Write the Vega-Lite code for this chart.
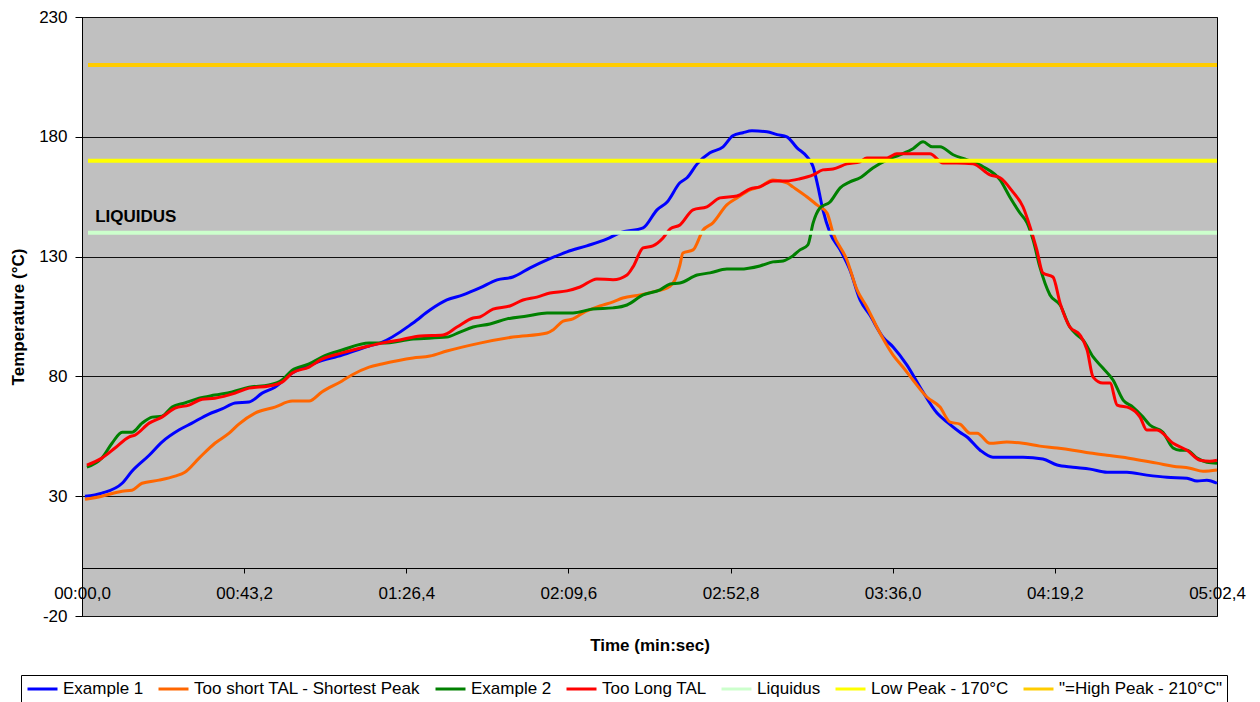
{
"$schema": "https://vega.github.io/schema/vega-lite/v6.json",
"width": 1135, "height": 599,
"autosize": {"type": "none"},
"padding": {"left": 82, "top": 17, "right": 43, "bottom": 86},
"background": "white",
"config": {
  "font": "Liberation Sans",
  "view": {"fill": "#C0C0C0", "stroke": "#000000", "strokeWidth": 1},
  "axis": {"labelFont": "Liberation Sans", "titleFont": "Liberation Sans", "labelColor": "black", "titleColor": "black", "domainColor": "black", "tickColor": "black", "gridColor": "#111111"},
  "legend": {"labelFont": "Liberation Sans", "labelColor": "black"}
},
"datasets": {
"curves": [
{"series":"Example 1","t":0.8,"temp":30.0},{"series":"Example 1","t":5.3,"temp":31.3},{"series":"Example 1","t":10.7,"temp":35.4},{"series":"Example 1","t":13.3,"temp":40.4},{"series":"Example 1","t":17.9,"temp":47.1},{"series":"Example 1","t":21.3,"temp":52.6},{"series":"Example 1","t":25.8,"temp":57.6},{"series":"Example 1","t":29.3,"temp":60.5},{"series":"Example 1","t":33.8,"temp":64.3},{"series":"Example 1","t":37.3,"temp":66.4},{"series":"Example 1","t":40.8,"temp":68.9},{"series":"Example 1","t":44.5,"temp":69.3},{"series":"Example 1","t":48.0,"temp":73.0},{"series":"Example 1","t":51.4,"temp":75.5},{"series":"Example 1","t":56.0,"temp":81.4},{"series":"Example 1","t":62.1,"temp":85.6},{"series":"Example 1","t":69.3,"temp":88.9},{"series":"Example 1","t":76.5,"temp":92.7},{"series":"Example 1","t":79.4,"temp":93.9},{"series":"Example 1","t":88.2,"temp":102.3},{"series":"Example 1","t":92.7,"temp":107.7},{"series":"Example 1","t":97.2,"temp":111.9},{"series":"Example 1","t":101.5,"temp":114.0},{"series":"Example 1","t":106.0,"temp":116.9},{"series":"Example 1","t":110.6,"temp":120.3},{"series":"Example 1","t":114.8,"temp":121.5},{"series":"Example 1","t":119.4,"temp":125.3},{"series":"Example 1","t":123.9,"temp":128.6},{"series":"Example 1","t":129.2,"temp":132.0},{"series":"Example 1","t":134.5,"temp":134.5},{"series":"Example 1","t":139.9,"temp":137.4},{"series":"Example 1","t":143.3,"temp":139.9},{"series":"Example 1","t":149.5,"temp":142.0},{"series":"Example 1","t":153.2,"temp":149.5},{"series":"Example 1","t":155.9,"temp":152.8},{"series":"Example 1","t":159.3,"temp":160.8},{"series":"Example 1","t":161.2,"temp":162.9},{"series":"Example 1","t":163.9,"temp":168.7},{"series":"Example 1","t":167.3,"temp":173.3},{"series":"Example 1","t":170.8,"temp":175.8},{"series":"Example 1","t":173.4,"temp":180.4},{"series":"Example 1","t":176.1,"temp":181.7},{"series":"Example 1","t":178.5,"temp":182.5},{"series":"Example 1","t":182.5,"temp":182.1},{"series":"Example 1","t":185.2,"temp":180.9},{"series":"Example 1","t":187.8,"temp":180.0},{"series":"Example 1","t":190.5,"temp":175.4},{"series":"Example 1","t":193.2,"temp":171.6},{"series":"Example 1","t":194.8,"temp":167.5},{"series":"Example 1","t":196.1,"temp":159.1},{"series":"Example 1","t":197.4,"temp":149.5},{"series":"Example 1","t":199.3,"temp":139.9},{"series":"Example 1","t":202.0,"temp":132.8},{"series":"Example 1","t":204.6,"temp":124.4},{"series":"Example 1","t":207.3,"temp":111.9},{"series":"Example 1","t":209.9,"temp":105.6},{"series":"Example 1","t":213.4,"temp":96.4},{"series":"Example 1","t":216.1,"temp":92.3},{"series":"Example 1","t":219.8,"temp":84.7},{"series":"Example 1","t":223.3,"temp":75.5},{"series":"Example 1","t":227.8,"temp":64.7},{"series":"Example 1","t":230.5,"temp":60.9},{"series":"Example 1","t":233.9,"temp":56.7},{"series":"Example 1","t":235.8,"temp":54.7},{"series":"Example 1","t":239.3,"temp":49.2},{"series":"Example 1","t":242.7,"temp":46.3},{"series":"Example 1","t":246.4,"temp":46.3},{"series":"Example 1","t":250.7,"temp":46.3},{"series":"Example 1","t":256.0,"temp":45.5},{"series":"Example 1","t":259.8,"temp":43.0},{"series":"Example 1","t":264.0,"temp":42.1},{"series":"Example 1","t":268.6,"temp":41.3},{"series":"Example 1","t":273.1,"temp":40.0},{"series":"Example 1","t":278.4,"temp":40.0},{"series":"Example 1","t":283.7,"temp":38.8},{"series":"Example 1","t":289.1,"temp":37.9},{"series":"Example 1","t":294.4,"temp":37.5},{"series":"Example 1","t":297.1,"temp":36.3},{"series":"Example 1","t":299.7,"temp":36.7},{"series":"Example 1","t":302.4,"temp":35.4},
{"series":"Too short TAL - Shortest Peak","t":0.8,"temp":28.7},{"series":"Too short TAL - Shortest Peak","t":5.3,"temp":30.0},{"series":"Too short TAL - Shortest Peak","t":10.7,"temp":32.1},{"series":"Too short TAL - Shortest Peak","t":13.3,"temp":32.5},{"series":"Too short TAL - Shortest Peak","t":16.0,"temp":35.4},{"series":"Too short TAL - Shortest Peak","t":20.5,"temp":36.7},{"series":"Too short TAL - Shortest Peak","t":24.8,"temp":38.4},{"series":"Too short TAL - Shortest Peak","t":27.4,"temp":40.0},{"series":"Too short TAL - Shortest Peak","t":31.2,"temp":45.9},{"series":"Too short TAL - Shortest Peak","t":35.4,"temp":52.1},{"series":"Too short TAL - Shortest Peak","t":39.2,"temp":56.3},{"series":"Too short TAL - Shortest Peak","t":41.8,"temp":60.1},{"series":"Too short TAL - Shortest Peak","t":46.1,"temp":64.7},{"series":"Too short TAL - Shortest Peak","t":51.4,"temp":67.2},{"series":"Too short TAL - Shortest Peak","t":56.0,"temp":69.7},{"series":"Too short TAL - Shortest Peak","t":60.5,"temp":69.7},{"series":"Too short TAL - Shortest Peak","t":63.9,"temp":73.5},{"series":"Too short TAL - Shortest Peak","t":69.3,"temp":78.1},{"series":"Too short TAL - Shortest Peak","t":71.9,"temp":80.6},{"series":"Too short TAL - Shortest Peak","t":76.5,"temp":83.9},{"series":"Too short TAL - Shortest Peak","t":79.9,"temp":85.2},{"series":"Too short TAL - Shortest Peak","t":88.2,"temp":87.7},{"series":"Too short TAL - Shortest Peak","t":92.7,"temp":88.5},{"series":"Too short TAL - Shortest Peak","t":97.2,"temp":90.6},{"series":"Too short TAL - Shortest Peak","t":106.0,"temp":93.9},{"series":"Too short TAL - Shortest Peak","t":114.8,"temp":96.4},{"series":"Too short TAL - Shortest Peak","t":123.9,"temp":98.1},{"series":"Too short TAL - Shortest Peak","t":125.5,"temp":99.4},{"series":"Too short TAL - Shortest Peak","t":128.2,"temp":103.1},{"series":"Too short TAL - Shortest Peak","t":130.8,"temp":104.0},{"series":"Too short TAL - Shortest Peak","t":133.5,"temp":106.5},{"series":"Too short TAL - Shortest Peak","t":138.0,"temp":109.4},{"series":"Too short TAL - Shortest Peak","t":141.5,"temp":111.1},{"series":"Too short TAL - Shortest Peak","t":144.1,"temp":112.7},{"series":"Too short TAL - Shortest Peak","t":148.7,"temp":114.0},{"series":"Too short TAL - Shortest Peak","t":153.2,"temp":115.7},{"series":"Too short TAL - Shortest Peak","t":155.9,"temp":116.9},{"series":"Too short TAL - Shortest Peak","t":158.0,"temp":120.3},{"series":"Too short TAL - Shortest Peak","t":159.3,"temp":126.5},{"series":"Too short TAL - Shortest Peak","t":160.1,"temp":131.5},{"series":"Too short TAL - Shortest Peak","t":162.8,"temp":132.8},{"series":"Too short TAL - Shortest Peak","t":165.5,"temp":141.1},{"series":"Too short TAL - Shortest Peak","t":168.1,"temp":144.1},{"series":"Too short TAL - Shortest Peak","t":171.8,"temp":151.6},{"series":"Too short TAL - Shortest Peak","t":174.5,"temp":154.5},{"series":"Too short TAL - Shortest Peak","t":178.0,"temp":157.9},{"series":"Too short TAL - Shortest Peak","t":180.6,"temp":159.1},{"series":"Too short TAL - Shortest Peak","t":184.1,"temp":162.0},{"series":"Too short TAL - Shortest Peak","t":187.8,"temp":160.8},{"series":"Too short TAL - Shortest Peak","t":189.4,"temp":159.1},{"series":"Too short TAL - Shortest Peak","t":193.2,"temp":154.9},{"series":"Too short TAL - Shortest Peak","t":195.8,"temp":151.6},{"series":"Too short TAL - Shortest Peak","t":198.5,"temp":148.2},{"series":"Too short TAL - Shortest Peak","t":200.1,"temp":139.9},{"series":"Too short TAL - Shortest Peak","t":203.8,"temp":128.6},{"series":"Too short TAL - Shortest Peak","t":206.5,"temp":116.1},{"series":"Too short TAL - Shortest Peak","t":209.1,"temp":109.0},{"series":"Too short TAL - Shortest Peak","t":212.6,"temp":98.1},{"series":"Too short TAL - Shortest Peak","t":216.1,"temp":88.9},{"series":"Too short TAL - Shortest Peak","t":218.7,"temp":83.9},{"series":"Too short TAL - Shortest Peak","t":221.4,"temp":78.5},{"series":"Too short TAL - Shortest Peak","t":225.1,"temp":71.4},{"series":"Too short TAL - Shortest Peak","t":228.6,"temp":67.2},{"series":"Too short TAL - Shortest Peak","t":231.3,"temp":60.9},{"series":"Too short TAL - Shortest Peak","t":233.9,"temp":60.1},{"series":"Too short TAL - Shortest Peak","t":236.6,"temp":56.3},{"series":"Too short TAL - Shortest Peak","t":238.5,"temp":56.3},{"series":"Too short TAL - Shortest Peak","t":241.9,"temp":52.1},{"series":"Too short TAL - Shortest Peak","t":246.4,"temp":52.6},{"series":"Too short TAL - Shortest Peak","t":250.7,"temp":52.1},{"series":"Too short TAL - Shortest Peak","t":255.2,"temp":50.9},{"series":"Too short TAL - Shortest Peak","t":259.8,"temp":50.1},{"series":"Too short TAL - Shortest Peak","t":264.0,"temp":49.2},{"series":"Too short TAL - Shortest Peak","t":268.6,"temp":48.0},{"series":"Too short TAL - Shortest Peak","t":273.1,"temp":47.1},{"series":"Too short TAL - Shortest Peak","t":277.4,"temp":46.3},{"series":"Too short TAL - Shortest Peak","t":281.9,"temp":45.0},{"series":"Too short TAL - Shortest Peak","t":286.4,"temp":43.8},{"series":"Too short TAL - Shortest Peak","t":290.7,"temp":42.5},{"series":"Too short TAL - Shortest Peak","t":295.2,"temp":41.7},{"series":"Too short TAL - Shortest Peak","t":298.7,"temp":40.4},{"series":"Too short TAL - Shortest Peak","t":302.4,"temp":40.9},
{"series":"Example 2","t":1.3,"temp":42.1},{"series":"Example 2","t":5.3,"temp":45.9},{"series":"Example 2","t":8.0,"temp":52.1},{"series":"Example 2","t":10.7,"temp":56.7},{"series":"Example 2","t":13.3,"temp":56.7},{"series":"Example 2","t":16.0,"temp":60.5},{"series":"Example 2","t":18.7,"temp":63.0},{"series":"Example 2","t":21.3,"temp":63.4},{"series":"Example 2","t":24.0,"temp":67.2},{"series":"Example 2","t":27.4,"temp":68.9},{"series":"Example 2","t":31.2,"temp":70.9},{"series":"Example 2","t":35.4,"temp":72.2},{"series":"Example 2","t":40.0,"temp":73.5},{"series":"Example 2","t":44.5,"temp":75.5},{"series":"Example 2","t":49.8,"temp":76.4},{"series":"Example 2","t":53.3,"temp":78.5},{"series":"Example 2","t":56.0,"temp":82.6},{"series":"Example 2","t":60.5,"temp":85.2},{"series":"Example 2","t":63.9,"temp":88.1},{"series":"Example 2","t":69.3,"temp":91.0},{"series":"Example 2","t":76.5,"temp":93.9},{"series":"Example 2","t":79.9,"temp":93.9},{"series":"Example 2","t":88.2,"temp":95.6},{"series":"Example 2","t":97.2,"temp":96.4},{"series":"Example 2","t":100.7,"temp":98.5},{"series":"Example 2","t":104.2,"temp":100.6},{"series":"Example 2","t":108.7,"temp":101.9},{"series":"Example 2","t":113.2,"temp":104.0},{"series":"Example 2","t":118.6,"temp":105.2},{"series":"Example 2","t":123.9,"temp":106.5},{"series":"Example 2","t":130.8,"temp":106.5},{"series":"Example 2","t":136.1,"temp":108.1},{"series":"Example 2","t":141.5,"temp":108.6},{"series":"Example 2","t":145.2,"temp":109.8},{"series":"Example 2","t":149.5,"temp":114.0},{"series":"Example 2","t":154.0,"temp":116.1},{"series":"Example 2","t":156.7,"temp":118.6},{"series":"Example 2","t":159.3,"temp":119.0},{"series":"Example 2","t":163.9,"temp":122.3},{"series":"Example 2","t":167.3,"temp":123.2},{"series":"Example 2","t":171.8,"temp":124.8},{"series":"Example 2","t":175.3,"temp":124.8},{"series":"Example 2","t":180.6,"temp":126.1},{"series":"Example 2","t":184.1,"temp":127.8},{"series":"Example 2","t":186.8,"temp":128.2},{"series":"Example 2","t":189.4,"temp":130.3},{"series":"Example 2","t":191.3,"temp":132.8},{"series":"Example 2","t":193.4,"temp":134.9},{"series":"Example 2","t":194.8,"temp":144.1},{"series":"Example 2","t":196.6,"temp":150.3},{"series":"Example 2","t":199.3,"temp":152.8},{"series":"Example 2","t":202.0,"temp":158.7},{"series":"Example 2","t":204.6,"temp":161.2},{"series":"Example 2","t":207.3,"temp":162.9},{"series":"Example 2","t":210.7,"temp":167.0},{"series":"Example 2","t":214.5,"temp":170.4},{"series":"Example 2","t":217.9,"temp":172.5},{"series":"Example 2","t":221.4,"temp":175.0},{"series":"Example 2","t":224.1,"temp":177.9},{"series":"Example 2","t":226.5,"temp":175.8},{"series":"Example 2","t":228.6,"temp":175.8},{"series":"Example 2","t":232.1,"temp":172.5},{"series":"Example 2","t":235.8,"temp":170.4},{"series":"Example 2","t":240.1,"temp":167.5},{"series":"Example 2","t":244.6,"temp":162.0},{"series":"Example 2","t":247.2,"temp":154.9},{"series":"Example 2","t":249.9,"temp":148.2},{"series":"Example 2","t":251.8,"temp":144.1},{"series":"Example 2","t":253.4,"temp":137.0},{"series":"Example 2","t":255.2,"temp":125.7},{"series":"Example 2","t":257.9,"temp":114.0},{"series":"Example 2","t":260.6,"temp":109.8},{"series":"Example 2","t":263.2,"temp":100.6},{"series":"Example 2","t":265.1,"temp":97.3},{"series":"Example 2","t":266.7,"temp":95.2},{"series":"Example 2","t":269.4,"temp":88.1},{"series":"Example 2","t":272.0,"temp":83.5},{"series":"Example 2","t":274.7,"temp":78.5},{"series":"Example 2","t":277.4,"temp":70.1},{"series":"Example 2","t":280.0,"temp":67.2},{"series":"Example 2","t":282.7,"temp":63.0},{"series":"Example 2","t":284.5,"temp":59.7},{"series":"Example 2","t":288.0,"temp":56.7},{"series":"Example 2","t":290.7,"temp":50.1},{"series":"Example 2","t":292.5,"temp":49.2},{"series":"Example 2","t":294.4,"temp":49.2},{"series":"Example 2","t":297.1,"temp":45.9},{"series":"Example 2","t":299.7,"temp":44.2},{"series":"Example 2","t":302.4,"temp":43.8},
{"series":"Too Long TAL","t":1.3,"temp":43.0},{"series":"Too Long TAL","t":5.3,"temp":45.9},{"series":"Too Long TAL","t":8.8,"temp":50.1},{"series":"Too Long TAL","t":12.5,"temp":54.7},{"series":"Too Long TAL","t":14.1,"temp":55.5},{"series":"Too Long TAL","t":17.9,"temp":60.5},{"series":"Too Long TAL","t":21.3,"temp":63.0},{"series":"Too Long TAL","t":24.8,"temp":66.8},{"series":"Too Long TAL","t":28.5,"temp":68.0},{"series":"Too Long TAL","t":32.0,"temp":70.5},{"series":"Too Long TAL","t":35.4,"temp":70.9},{"series":"Too Long TAL","t":40.8,"temp":73.0},{"series":"Too Long TAL","t":44.5,"temp":75.1},{"series":"Too Long TAL","t":49.8,"temp":76.0},{"series":"Too Long TAL","t":53.3,"temp":77.6},{"series":"Too Long TAL","t":56.0,"temp":81.4},{"series":"Too Long TAL","t":60.5,"temp":83.9},{"series":"Too Long TAL","t":63.9,"temp":87.2},{"series":"Too Long TAL","t":69.3,"temp":89.8},{"series":"Too Long TAL","t":76.5,"temp":92.7},{"series":"Too Long TAL","t":79.9,"temp":93.9},{"series":"Too Long TAL","t":84.7,"temp":95.2},{"series":"Too Long TAL","t":90.1,"temp":96.9},{"series":"Too Long TAL","t":96.2,"temp":97.3},{"series":"Too Long TAL","t":99.9,"temp":100.6},{"series":"Too Long TAL","t":104.2,"temp":104.4},{"series":"Too Long TAL","t":106.0,"temp":104.8},{"series":"Too Long TAL","t":109.5,"temp":108.1},{"series":"Too Long TAL","t":114.0,"temp":109.4},{"series":"Too Long TAL","t":117.5,"temp":111.9},{"series":"Too Long TAL","t":121.2,"temp":113.1},{"series":"Too Long TAL","t":124.7,"temp":114.8},{"series":"Too Long TAL","t":129.2,"temp":115.7},{"series":"Too Long TAL","t":132.7,"temp":117.3},{"series":"Too Long TAL","t":137.2,"temp":120.7},{"series":"Too Long TAL","t":141.5,"temp":120.3},{"series":"Too Long TAL","t":145.2,"temp":122.3},{"series":"Too Long TAL","t":146.8,"temp":125.7},{"series":"Too Long TAL","t":149.5,"temp":133.6},{"series":"Too Long TAL","t":152.1,"temp":134.5},{"series":"Too Long TAL","t":154.8,"temp":137.8},{"series":"Too Long TAL","t":156.7,"temp":141.6},{"series":"Too Long TAL","t":159.3,"temp":143.2},{"series":"Too Long TAL","t":162.8,"temp":149.5},{"series":"Too Long TAL","t":166.5,"temp":150.8},{"series":"Too Long TAL","t":170.0,"temp":154.5},{"series":"Too Long TAL","t":174.5,"temp":155.3},{"series":"Too Long TAL","t":178.0,"temp":158.3},{"series":"Too Long TAL","t":180.6,"temp":159.1},{"series":"Too Long TAL","t":184.1,"temp":161.6},{"series":"Too Long TAL","t":187.8,"temp":161.6},{"series":"Too Long TAL","t":191.3,"temp":162.5},{"series":"Too Long TAL","t":194.8,"temp":164.1},{"series":"Too Long TAL","t":197.4,"temp":166.2},{"series":"Too Long TAL","t":200.1,"temp":166.6},{"series":"Too Long TAL","t":203.8,"temp":168.7},{"series":"Too Long TAL","t":207.3,"temp":169.6},{"series":"Too Long TAL","t":209.1,"temp":171.2},{"series":"Too Long TAL","t":214.5,"temp":171.2},{"series":"Too Long TAL","t":217.1,"temp":172.9},{"series":"Too Long TAL","t":221.4,"temp":172.9},{"series":"Too Long TAL","t":225.9,"temp":172.9},{"series":"Too Long TAL","t":229.4,"temp":169.1},{"series":"Too Long TAL","t":233.1,"temp":169.1},{"series":"Too Long TAL","t":237.4,"temp":168.7},{"series":"Too Long TAL","t":241.9,"temp":164.1},{"series":"Too Long TAL","t":244.6,"temp":162.9},{"series":"Too Long TAL","t":248.0,"temp":157.0},{"series":"Too Long TAL","t":250.7,"temp":150.8},{"series":"Too Long TAL","t":252.6,"temp":142.4},{"series":"Too Long TAL","t":254.4,"temp":132.8},{"series":"Too Long TAL","t":256.0,"temp":123.2},{"series":"Too Long TAL","t":258.7,"temp":121.5},{"series":"Too Long TAL","t":260.6,"temp":110.6},{"series":"Too Long TAL","t":263.2,"temp":100.6},{"series":"Too Long TAL","t":265.9,"temp":97.3},{"series":"Too Long TAL","t":267.8,"temp":91.0},{"series":"Too Long TAL","t":269.4,"temp":79.7},{"series":"Too Long TAL","t":272.0,"temp":77.2},{"series":"Too Long TAL","t":273.9,"temp":77.2},{"series":"Too Long TAL","t":275.8,"temp":68.0},{"series":"Too Long TAL","t":279.2,"temp":66.8},{"series":"Too Long TAL","t":281.9,"temp":63.0},{"series":"Too Long TAL","t":283.7,"temp":57.6},{"series":"Too Long TAL","t":286.4,"temp":57.6},{"series":"Too Long TAL","t":290.7,"temp":52.1},{"series":"Too Long TAL","t":294.4,"temp":49.2},{"series":"Too Long TAL","t":297.9,"temp":45.0},{"series":"Too Long TAL","t":300.5,"temp":44.6},{"series":"Too Long TAL","t":302.4,"temp":45.0}
],
"refs": [
{"series":"Liquidus","t":1.6,"temp":140},{"series":"Liquidus","t":302.4,"temp":140},
{"series":"Low Peak - 170°C","t":1.6,"temp":170},{"series":"Low Peak - 170°C","t":302.4,"temp":170},
{"series":"\"=High Peak - 210°C\"","t":1.6,"temp":210},{"series":"\"=High Peak - 210°C\"","t":302.4,"temp":210}
],
"notes": [
{"label":"LIQUIDUS","t":3.5,"temp":146.6}
]
},
"encoding": {
  "x": {"field": "t", "type": "quantitative",
    "scale": {"domain": [0, 302.4], "nice": false, "zero": false},
    "axis": {"title": "Time (min:sec)", "values": [0, 43.2, 86.4, 129.6, 172.8, 216, 259.2, 302.4],
      "labelExpr": "format(floor(datum.value/60),'02d') + ':' + replace(format(datum.value - 60*floor(datum.value/60), '04.1f'), '.', ',')",
      "offset": -48, "grid": false, "tickSize": 5, "labelPadding": 12, "labelFontSize": 17,
      "titleFontSize": 17, "titleFontWeight": "bold", "titleX": 567.5, "titleY": 77,
      "titleBaseline": "middle", "titleAlign": "center", "labelFlush": false, "labelOverlap": false}},
  "y": {"field": "temp", "type": "quantitative",
    "scale": {"domain": [-20, 230], "nice": false, "zero": false},
    "axis": {"title": "Temperature (°C)", "values": [-20, 30, 80, 130, 180, 230],
      "labelExpr": "datum.value < 0 ? '-' + abs(datum.value) : '' + datum.value",
      "grid": true, "gridWidth": 1, "tickSize": 7, "labelPadding": 8, "labelFontSize": 17,
      "titleFontSize": 17, "titleFontWeight": "bold", "titleAngle": -90, "titleX": -64, "titleY": 299.5,
      "titleBaseline": "middle", "titleAlign": "center", "labelFlush": false, "labelOverlap": false}}
},
"layer": [
  {"data": {"name": "curves"},
   "mark": {"type": "line", "strokeWidth": 3, "interpolate": "monotone"},
   "encoding": {"color": {"field": "series", "type": "nominal",
     "scale": {"domain": ["Example 1", "Too short TAL - Shortest Peak", "Example 2", "Too Long TAL", "Liquidus", "Low Peak - 170°C", "\"=High Peak - 210°C\""],
               "range": ["#0000FF", "#FF6600", "#008000", "#FF0000", "#CCFFCC", "#FFFF00", "#FFCC00"]},
     "legend": {"title": null, "orient": "none", "legendX": -61, "legendY": 658, "direction": "horizontal", "columns": 7,
       "symbolType": "M-1,0H3", "symbolSize": 225, "symbolStrokeWidth": 3, "labelFontSize": 17, "labelOffset": 19,
       "columnPadding": 8, "padding": 5, "strokeColor": "black", "fillColor": "white", "labelLimit": 400}}}},
  {"data": {"name": "refs"},
   "mark": {"type": "line", "strokeWidth": 4},
   "encoding": {"color": {"field": "series", "type": "nominal",
     "scale": {"domain": ["Example 1", "Too short TAL - Shortest Peak", "Example 2", "Too Long TAL", "Liquidus", "Low Peak - 170°C", "\"=High Peak - 210°C\""],
               "range": ["#0000FF", "#FF6600", "#008000", "#FF0000", "#CCFFCC", "#FFFF00", "#FFCC00"]},
     "legend": {"title": null, "orient": "none", "legendX": -61, "legendY": 658, "direction": "horizontal", "columns": 7,
       "symbolType": "M-1,0H3", "symbolSize": 225, "symbolStrokeWidth": 3, "labelFontSize": 17, "labelOffset": 19,
       "columnPadding": 8, "padding": 5, "strokeColor": "black", "fillColor": "white", "labelLimit": 400}}}},
  {"data": {"name": "notes"},
   "mark": {"type": "text", "align": "left", "baseline": "middle", "fontWeight": "bold", "fontSize": 17, "color": "black"},
   "encoding": {"text": {"field": "label"}}}
]
}
